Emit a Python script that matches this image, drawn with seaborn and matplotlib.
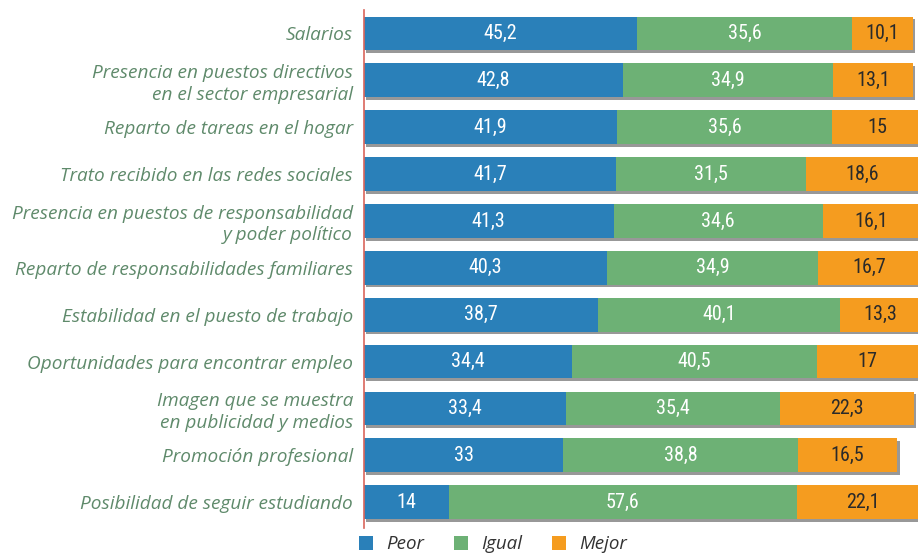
import matplotlib
matplotlib.use("Agg")
import matplotlib.pyplot as plt
import matplotlib.patheffects as pe
from matplotlib.patches import Patch
import matplotlib.font_manager as fm
import seaborn as sns
import numpy as np
import pandas as pd

categories = [
    "Salarios",
    "Presencia en puestos directivos\nen el sector empresarial",
    "Reparto de tareas en el hogar",
    "Trato recibido en las redes sociales",
    "Presencia en puestos de responsabilidad\ny poder político",
    "Reparto de responsabilidades familiares",
    "Estabilidad en el puesto de trabajo",
    "Oportunidades para encontrar empleo",
    "Imagen que se muestra\nen publicidad y medios",
    "Promoción profesional",
    "Posibilidad de seguir estudiando",
]
peor = [45.2, 42.8, 41.9, 41.7, 41.3, 40.3, 38.7, 34.4, 33.4, 33.0, 14.0]
igual = [35.6, 34.9, 35.6, 31.5, 34.6, 34.9, 40.1, 40.5, 35.4, 38.8, 57.6]
mejor = [10.1, 13.1, 15.0, 18.6, 16.1, 16.7, 13.3, 17.0, 22.3, 16.5, 22.1]
series_names = ["Peor", "Igual", "Mejor"]

c_blue = "#2a80b9"
c_green = "#6db175"
c_orange = "#f59c1f"
label_color = "#5f8a6b"

sns.set_theme(style="white")
names = {f.name for f in fm.fontManager.ttflist}
narrow = [n for n in ["Liberation Sans Narrow", "DejaVu Sans Condensed", "Roboto Condensed",
                      "Open Sans Condensed", "Noto Sans Condensed"] if n in names]
num_font = narrow + ["DejaVu Sans"]
lab_font = ["Open Sans", "DejaVu Sans"]

df = pd.DataFrame({"cat": categories, "peor": peor, "igual": igual, "mejor": mejor})
df["c1"] = df["peor"]
df["c2"] = df["peor"] + df["igual"]
df["c3"] = df["c2"] + df["mejor"]

fig = plt.figure(figsize=(9.18, 5.58), dpi=100)
ax = fig.add_axes([364 / 918, 1 - 528 / 558, 1 - 364 / 918, (528 - 10) / 558])

w = 0.72
sns.barplot(data=df, x="c3", y="cat", color=c_orange, saturation=1, width=w, ax=ax, orient="h")
for p in ax.patches:
    p.set_path_effects([pe.SimplePatchShadow(offset=(1.5, -2), shadow_rgbFace="#333333", alpha=0.5), pe.Normal()])
sns.barplot(data=df, x="c2", y="cat", color=c_green, saturation=1, width=w, ax=ax, orient="h")
sns.barplot(data=df, x="c1", y="cat", color=c_blue, saturation=1, width=w, ax=ax, orient="h")
for p in ax.patches:
    p.set_linewidth(0)

def fmt(v):
    s = f"{v:.1f}"
    if s.endswith(".0"):
        s = s[:-2]
    return s.replace(".", ",")

for i in range(len(categories)):
    starts = [0, df["c1"][i], df["c2"][i]]
    vals = [peor[i], igual[i], mejor[i]]
    cols = ["white", "white", "#2a2a2a"]
    for s, v, c in zip(starts, vals, cols):
        ax.text(s + v / 2, i, fmt(v), ha="center", va="center", color=c,
                fontsize=14.5, family=num_font, fontstretch="condensed", clip_on=True)

ax.set_xlim(0, 91.7)
ax.set_ylim(10.55, -0.5)
ax.set_xlabel("")
ax.set_ylabel("")
ax.set_xticks([])
for s in ["top", "right", "bottom"]:
    ax.spines[s].set_visible(False)
ax.spines["left"].set_color("#d9655b")
ax.spines["left"].set_linewidth(1.2)
ax.tick_params(axis="y", length=0, pad=8)
for t in ax.get_yticklabels():
    t.set_fontstyle("italic")
    t.set_family(lab_font)
    t.set_fontsize(13.7)
    t.set_color(label_color)
    t.set_linespacing(1.25)

handles = [Patch(facecolor=c, edgecolor="none") for c in [c_blue, c_green, c_orange]]
leg = fig.legend(handles, series_names, loc="lower left", bbox_to_anchor=(342 / 918, -0.022),
                 ncol=3, frameon=False, handlelength=0.75, handleheight=0.75,
                 columnspacing=1.6, handletextpad=0.7,
                 prop={"family": lab_font, "style": "italic", "size": 13.5})
for t in leg.get_texts():
    t.set_color("#333333")

fig.savefig("out.png", dpi=100)
